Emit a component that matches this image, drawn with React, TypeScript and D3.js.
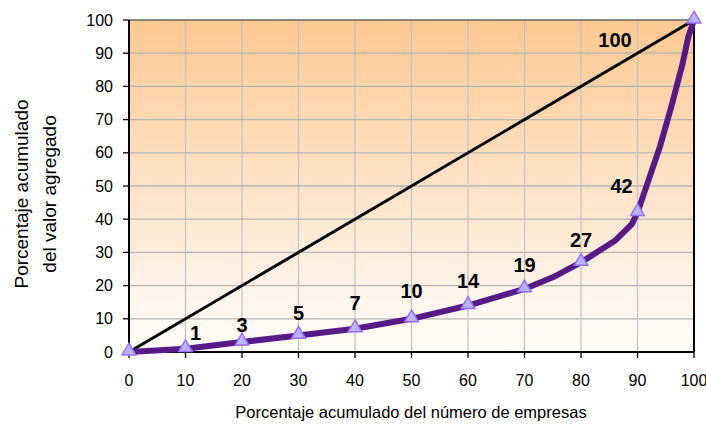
import * as d3 from 'd3'

// curve points (dense) and labelled decile markers
const curveX = [0, 10, 20, 30, 40, 50, 60, 70, 75, 80, 86, 89, 90, 92, 94, 96, 98, 99, 100]
const curveY = [0, 1, 3, 5, 7, 10, 14, 19, 22.5, 27, 33.5, 38.5, 42, 52, 62, 74, 87, 95, 100]
const markerX = [0, 10, 20, 30, 40, 50, 60, 70, 80, 90, 100]
const markerY = [0, 1, 3, 5, 7, 10, 14, 19, 27, 42, 100]
const labelText = ['', '1', '3', '5', '7', '10', '14', '19', '27', '42', '100']
const ticks = [0, 10, 20, 30, 40, 50, 60, 70, 80, 90, 100]

// label nudges in pixels (dx, dy from the marker)
const labelDx = [0, 10, 0, 0, 0, 0, 0, 0, 0, -16, -79]
const labelDy = [0, -9, -10, -15, -19, -21, -18, -17, -15, -20, 27]

const W = 706
const H = 432
const margin = { top: 20, right: 12, bottom: 80, left: 129 }
const iw = 694 - margin.left
const ih = 352 - margin.top

const App = () => {
  const x = d3.scaleLinear().domain([0, 100]).range([0, iw])
  const y = d3.scaleLinear().domain([0, 100]).range([ih, 0])

  const curve = d3
    .line<number>()
    .x((_, i) => x(curveX[i]))
    .y((d) => y(d))

  const tri = d3.symbol().type(d3.symbolTriangle).size(80)

  const font = "'Liberation Sans', Arial, sans-serif"

  return (
    <svg width={W} height={H} style={{ position: 'absolute', left: 0, top: 0 }} fontFamily={font}>
      <defs>
        <linearGradient id="bg" x1="0" y1="0" x2="0" y2="1">
          <stop offset="0%" stopColor="#fdc892" />
          <stop offset="100%" stopColor="#fffdfb" />
        </linearGradient>
      </defs>
      <g transform={`translate(${margin.left},${margin.top})`}>
        <rect width={iw} height={ih} fill="url(#bg)" />
        {ticks.slice(1, -1).map((t) => (
          <g key={'g' + t}>
            <line x1={x(t)} x2={x(t)} y1={0} y2={ih} stroke="#c4c4c4" strokeWidth={1.3} />
            <line x1={0} x2={iw} y1={y(t)} y2={y(t)} stroke="#b4b4b4" strokeWidth={1.3} />
          </g>
        ))}
        <line x1={0} x2={iw} y1={0} y2={0} stroke="#666" strokeWidth={1.5} />
        <line x1={iw} x2={iw} y1={0} y2={ih} stroke="#000" strokeWidth={2} />
        <line x1={0} x2={0} y1={0} y2={ih} stroke="#000" strokeWidth={2} />
        <line x1={0} x2={iw} y1={ih} y2={ih} stroke="#000" strokeWidth={2} />
        {ticks.map((t) => (
          <g key={'t' + t}>
            <line x1={-6} x2={0} y1={y(t)} y2={y(t)} stroke="#000" strokeWidth={1.3} />
            <text x={-16} y={y(t)} dy="0.35em" textAnchor="end" fontSize={16} fill="#000">
              {t}
            </text>
            <line x1={x(t)} x2={x(t)} y1={ih} y2={ih + 6} stroke="#000" strokeWidth={1.3} />
            <text x={x(t)} y={ih + 34} textAnchor="middle" fontSize={16} fill="#000">
              {t}
            </text>
          </g>
        ))}
        <line x1={x(0)} y1={y(0)} x2={x(100)} y2={y(100)} stroke="#000" strokeWidth={3} />
        <path d={curve(curveY) ?? ''} fill="none" stroke="#561b87" strokeWidth={6} strokeLinejoin="round" />
        {markerX.map((mx, i) => (
          <path
            key={'m' + i}
            d={tri() ?? ''}
            transform={`translate(${x(mx)},${y(markerY[i]) - 1})`}
            fill="#b9b6ff"
            stroke="#9a6cff"
            strokeWidth={1.5}
          />
        ))}
        {markerX.map((mx, i) =>
          labelText[i] ? (
            <text
              key={'l' + i}
              x={x(mx) + labelDx[i]}
              y={y(markerY[i]) + labelDy[i]}
              textAnchor="middle"
              fontSize={20}
              fontWeight="bold"
              fill="#000"
            >
              {labelText[i]}
            </text>
          ) : null
        )}
      </g>
      <text x={411} y={418} textAnchor="middle" fontSize={16.5} fill="#000">
        Porcentaje acumulado del número de empresas
      </text>
      <g transform="translate(36,194) rotate(-90)">
        <text x={0} y={-8} textAnchor="middle" fontSize={19} fill="#000">
          Porcentaje acumulado
        </text>
        <text x={0} y={20} textAnchor="middle" fontSize={19} fill="#000">
          del valor agregado
        </text>
      </g>
    </svg>
  )
}

export default App
